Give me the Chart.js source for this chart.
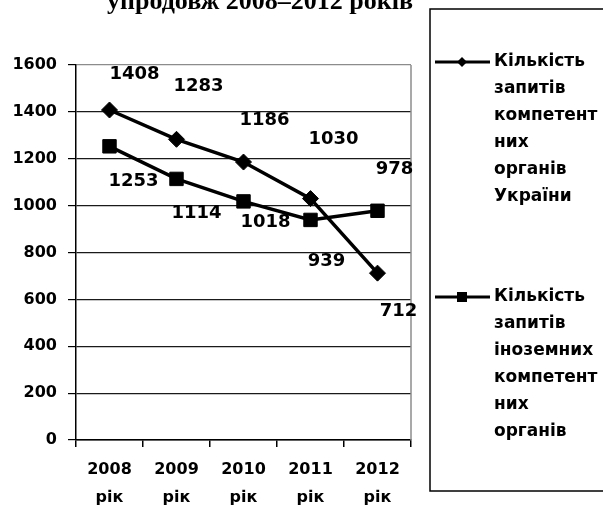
<!DOCTYPE html>
<html>
<head>
<meta charset="utf-8">
<script src="https://cdn.jsdelivr.net/npm/chart.js@4.4.0/dist/chart.umd.min.js"></script>
<style>
    html, body { margin: 0; padding: 0; background: #fff; overflow: hidden; }
    #wrap { width: 603px; height: 507px; position: relative; }
</style>
</head>
<body>
<div id="wrap"><canvas id="chart" width="603" height="507"></canvas></div>
<script>
// --- Дані ---
const years = [['2008', 'рік'], ['2009', 'рік'], ['2010', 'рік'], ['2011', 'рік'], ['2012', 'рік']];
const zapytyUkrainy = [1408, 1283, 1186, 1030, 712];
const zapytyInozemni = [1253, 1114, 1018, 939, 978];
const yMin = 0;
const yMax = 1600;
const yStep = 200;
const legendUkrainy = ['Кількість', 'запитів', 'компетент', 'них', 'органів', 'України'];
const legendInozemni = ['Кількість', 'запитів', 'іноземних', 'компетент', 'них', 'органів'];
const titleText = 'упродовж 2008–2012 років';

// зсуви підписів значень (вручну розставлені, як в оригіналі)
const labelShiftUkr = [[25, -36], [22, -53], [21, -42], [23, -59], [21, 38]];
const labelShiftInoz = [[24, 35], [20, 34], [22, 21], [16, 41], [17, -41]];

const FONT = '"DejaVu Sans", sans-serif';

// Заголовок (обрізаний зверху)
const titlePlugin = {
    id: 'topTitle',
    afterDraw(chart) {
        const ctx = chart.ctx;
        ctx.save();
        ctx.font = 'bold 26px "Liberation Serif", serif';
        ctx.fillStyle = '#000';
        ctx.textAlign = 'center';
        ctx.textBaseline = 'alphabetic';
        ctx.fillText(titleText, 260, 9);
        ctx.restore();
    }
};

// Рамка справа
const framePlugin = {
    id: 'frame',
    beforeDatasetsDraw(chart) {
        const { ctx, chartArea } = chart;
        ctx.save();
        ctx.strokeStyle = '#8c8c8c';
        ctx.lineWidth = 1.5;
        ctx.beginPath();
        ctx.moveTo(chartArea.right, chartArea.top);
        ctx.lineTo(chartArea.right, chartArea.bottom);
        ctx.stroke();
        ctx.restore();
    }
};

// Підписи значень
const valueLabels = {
    id: 'valueLabels',
    afterDatasetsDraw(chart) {
        const ctx = chart.ctx;
        const shifts = [labelShiftUkr, labelShiftInoz];
        ctx.save();
        ctx.font = 'bold 18px ' + FONT;
        ctx.fillStyle = '#000';
        ctx.textAlign = 'center';
        ctx.textBaseline = 'middle';
        chart.data.datasets.forEach((ds, i) => {
            chart.getDatasetMeta(i).data.forEach((pt, j) => {
                const [dx, dy] = shifts[i][j];
                ctx.fillText(String(ds.data[j]), pt.x + dx, pt.y + dy);
            });
        });
        ctx.restore();
    }
};

// Легенда в рамці праворуч
const boxLegend = {
    id: 'boxLegend',
    afterDraw(chart) {
        const ctx = chart.ctx;
        ctx.save();
        ctx.strokeStyle = '#000';
        ctx.lineWidth = 1.5;
        ctx.strokeRect(430, 9, 200, 482);

        const items = [
            { lines: legendUkrainy, y: 62, marker: 'diamond' },
            { lines: legendInozemni, y: 297, marker: 'square' }
        ];
        items.forEach(it => {
            ctx.strokeStyle = '#000';
            ctx.lineWidth = 3;
            ctx.beginPath();
            ctx.moveTo(435, it.y);
            ctx.lineTo(490, it.y);
            ctx.stroke();
            ctx.fillStyle = '#000';
            ctx.beginPath();
            if (it.marker === 'diamond') {
                ctx.moveTo(462, it.y - 5);
                ctx.lineTo(467, it.y);
                ctx.lineTo(462, it.y + 5);
                ctx.lineTo(457, it.y);
                ctx.closePath();
            } else {
                ctx.rect(457, it.y - 5, 10, 10);
            }
            ctx.fill();

            ctx.font = 'bold 17px ' + FONT;
            ctx.textAlign = 'left';
            ctx.textBaseline = 'middle';
            it.lines.forEach((t, k) => ctx.fillText(t, 494, it.y + k * 27));
        });
        ctx.restore();
    }
};

new Chart(document.getElementById('chart'), {
    type: 'line',
    data: {
        labels: years,
        datasets: [
            {
                label: legendUkrainy.join(' '),
                data: zapytyUkrainy,
                borderColor: '#000',
                backgroundColor: '#000',
                borderWidth: 3.5,
                pointStyle: 'rectRot',
                pointRadius: 8,
                pointBorderWidth: 1,
                tension: 0
            },
            {
                label: legendInozemni.join(' '),
                data: zapytyInozemni,
                borderColor: '#000',
                backgroundColor: '#000',
                borderWidth: 3.5,
                pointStyle: 'rect',
                pointRadius: 9.5,
                pointBorderWidth: 1,
                tension: 0
            }
        ]
    },
    options: {
        responsive: false,
        animation: false,
        layout: { padding: { top: 65, right: 192, left: 0, bottom: 0 } },
        plugins: {
            legend: { display: false },
            title: { display: false },
            tooltip: { enabled: false }
        },
        scales: {
            x: {
                offset: true,
                afterFit: s => { s.height = 67; },
                grid: { offset: true, drawOnChartArea: false, drawTicks: true, tickLength: 7, color: '#000', lineWidth: 1.5 },
                border: { color: '#000', width: 1.5 },
                ticks: {
                    color: '#000',
                    font: { family: FONT, size: 16, weight: 'bold', lineHeight: 1.8 },
                    padding: 8,
                    maxRotation: 0
                }
            },
            y: {
                min: yMin,
                max: yMax,
                afterFit: s => { s.width = 76; },
                grid: {
                    color: c => (c.tick && c.tick.value === yMax ? '#8c8c8c' : '#1a1a1a'),
                    lineWidth: 1.2,
                    drawTicks: true,
                    tickLength: 8,
                    tickColor: '#000'
                },
                border: { color: '#000', width: 1.5 },
                ticks: {
                    stepSize: yStep,
                    color: '#000',
                    padding: 11,
                    font: { family: FONT, size: 16, weight: 'bold' },
                    callback: v => String(v)
                }
            }
        }
    },
    plugins: [titlePlugin, framePlugin, valueLabels, boxLegend]
});
</script>
</body>
</html>
